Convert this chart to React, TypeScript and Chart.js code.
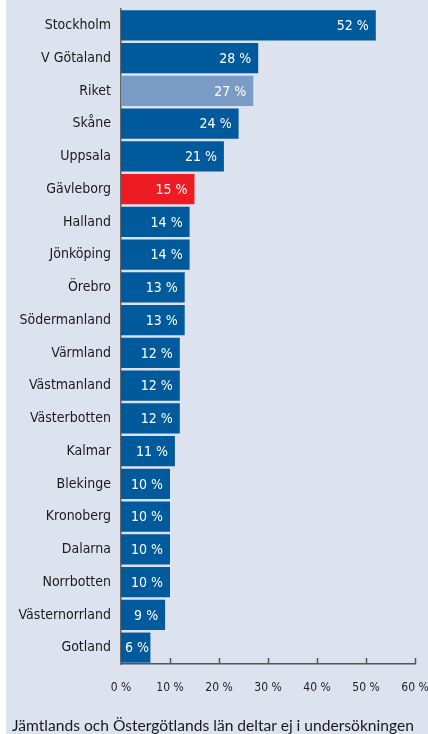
import React, { useEffect, useRef } from "react";
import { Chart, registerables } from "chart.js";

Chart.register(...registerables);

const categories = [
  "Stockholm", "V Götaland", "Riket", "Skåne", "Uppsala", "Gävleborg", "Halland",
  "Jönköping", "Örebro", "Södermanland", "Värmland", "Västmanland", "Västerbotten",
  "Kalmar", "Blekinge", "Kronoberg", "Dalarna", "Norrbotten", "Västernorrland", "Gotland",
];
const values = [52, 28, 27, 24, 21, 15, 14, 14, 13, 13, 12, 12, 12, 11, 10, 10, 10, 10, 9, 6];
const xTicks = [0, 10, 20, 30, 40, 50, 60];
const footnote = "Jämtlands och Östergötlands län deltar ej i undersökningen";

const BLUE = "#005a9c";
const LIGHT = "#7a9bc6";
const RED = "#ed1c24";
const BG = "#dde2ef";
const NARROW = '"Liberation Sans Narrow", "DejaVu Sans Condensed", sans-serif';

const barColor = (name: string) =>
  name === "Riket" ? LIGHT : name === "Gävleborg" ? RED : BLUE;

const fmt = (v: number) => `${v} %`;

const valueLabels = {
  id: "valueLabels",
  afterDatasetsDraw(chart: any) {
    const ctx = chart.ctx;
    const meta = chart.getDatasetMeta(0);
    ctx.save();
    ctx.font = `14px ${NARROW}`;
    ctx.fillStyle = "#ffffff";
    ctx.textBaseline = "middle";
    meta.data.forEach((bar: any, i: number) => {
      const text = fmt(values[i]);
      const w = ctx.measureText(text).width;
      const x = bar.x - 7;
      if (x - w < bar.base + 4) {
        ctx.textAlign = "left";
        ctx.fillText(text, bar.base + 4, bar.y + 1);
      } else {
        ctx.textAlign = "right";
        ctx.fillText(text, x, bar.y + 1);
      }
    });
    ctx.restore();
  },
};

const innerTicks = {
  id: "innerTicks",
  afterDatasetsDraw(chart: any) {
    const ctx = chart.ctx;
    const xs = chart.scales.x;
    const bottom = chart.chartArea.bottom;
    ctx.save();
    ctx.strokeStyle = "#555555";
    ctx.lineWidth = 1.5;
    xTicks.forEach((t) => {
      if (t === 0) return;
      const px = Math.round(xs.getPixelForValue(t)) + 0.5;
      ctx.beginPath();
      ctx.moveTo(px, bottom);
      ctx.lineTo(px, bottom - 6);
      ctx.stroke();
    });
    ctx.restore();
  },
};

export default function App() {
  const ref = useRef<HTMLCanvasElement | null>(null);

  useEffect(() => {
    document.body.style.margin = "0";
    const canvas = ref.current;
    if (!canvas) return;
    const chart = new Chart(canvas, {
      type: "bar",
      data: {
        labels: categories,
        datasets: [
          {
            data: values,
            backgroundColor: categories.map(barColor),
            borderWidth: 0,
            barPercentage: 0.92,
            categoryPercentage: 1,
          },
        ],
      },
      options: {
        indexAxis: "y",
        animation: false,
        responsive: false,
        maintainAspectRatio: false,
        layout: { padding: { top: 9, right: 13, left: 0, bottom: 0 } },
        plugins: {
          legend: { display: false },
          tooltip: { enabled: false },
          title: { display: false },
        },
        scales: {
          x: {
            min: 0,
            max: 60,
            afterFit: (s: any) => {
              s.height = 70;
              s.paddingLeft = 0;
              s.paddingRight = 0;
            },
            afterBuildTicks: (s: any) => {
              s.ticks = xTicks.map((v) => ({ value: v }));
            },
            grid: { display: false, drawTicks: false },
            border: { display: true, color: "#555555", width: 1.5 },
            ticks: {
              padding: 17,
              color: "#222222",
              font: { family: NARROW, size: 12 },
              callback: (v: any) => fmt(Number(v)),
              maxRotation: 0,
            },
          },
          y: {
            afterFit: (s: any) => {
              s.width = 115;
              s.paddingTop = 0;
              s.paddingBottom = 0;
            },
            grid: { display: false, drawTicks: false },
            border: { display: true, color: "#666666", width: 1.5 },
            ticks: {
              padding: 10,
              color: "#1a1a1a",
              font: { family: NARROW, size: 14 },
              autoSkip: false,
            },
          },
        },
      },
      plugins: [valueLabels, innerTicks],
    });
    return () => chart.destroy();
  }, []);

  return (
    <div style={{ position: "relative", width: 428, height: 734, background: "#ffffff" }}>
      <div
        style={{
          position: "absolute",
          left: 6,
          top: 0,
          width: 422,
          height: 734,
          background: BG,
        }}
      >
        <canvas ref={ref} width={422} height={734} style={{ display: "block" }} />
        <div
          style={{
            position: "absolute",
            left: 6,
            top: 715,
            fontFamily: "Lato, sans-serif",
            fontSize: 15.6,
            color: "#1a1a1a",
            whiteSpace: "nowrap",
            lineHeight: "20px",
          }}
        >
          {footnote}
        </div>
      </div>
    </div>
  );
}
